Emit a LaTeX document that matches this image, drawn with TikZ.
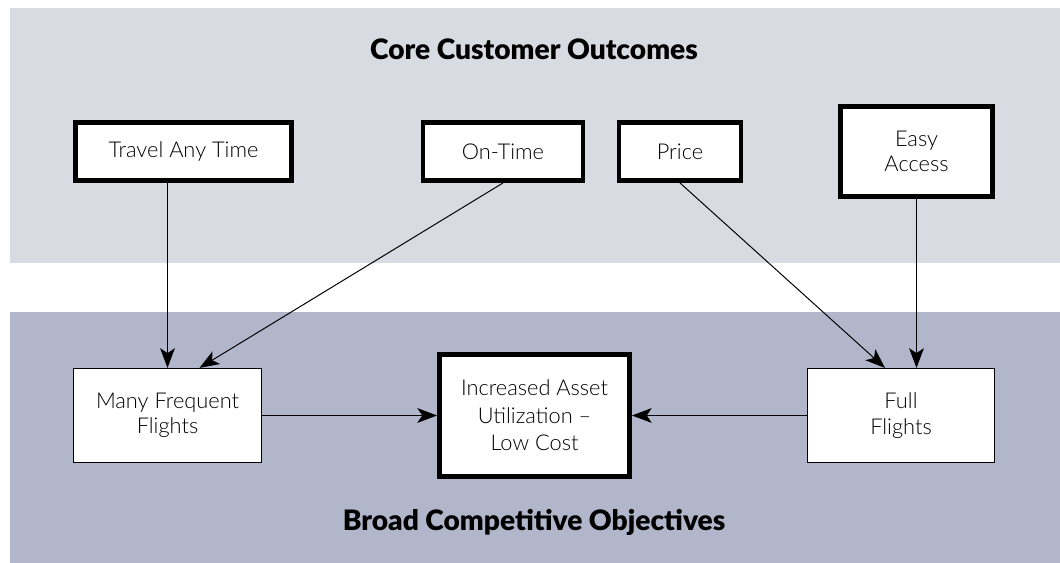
\documentclass[tikz,border=0pt]{standalone}
\usepackage{fontspec}
\setmainfont{Lato Light}
\newfontfamily\headfont{Lato Black}
\usepackage{xcolor}
\usetikzlibrary{arrows.meta}

\definecolor{bandtop}{HTML}{D8DBE2}
\definecolor{bandlow}{HTML}{B1B6CA}

\tikzset{
  goalbox/.style={draw, fill=white, line width=3.2pt, inner sep=0pt, align=center,
    font=\fontsize{15.5}{18}\selectfont},
  aimbox/.style={draw, fill=white, line width=0.8pt, inner sep=0pt, align=center,
    font=\fontsize{15.5}{18}\selectfont},
  link/.style={line width=0.7pt, -{Stealth[length=14pt, width=10.5pt, inset=3.5pt]}},
  bandtitle/.style={font=\headfont\fontsize{20}{24}\selectfont}
}

\begin{document}
\begin{tikzpicture}[x=0.025cm, y=-0.025cm]
\useasboundingbox (0,0) rectangle (1060,563);

% bands
\fill[bandtop] (10,8) rectangle (1060,263);
\fill[bandlow] (10,312) rectangle (1060,563);

\node[bandtitle] (core) at (534,49) {Core Customer Outcomes};
\node[bandtitle] (broad) at (534,522) {Broad Competitive Objectives};

% customer outcomes
\node[goalbox, minimum width=5.41cm, minimum height=1.46cm] (travel) at (183.5,151.5) {Travel Any Time};
\node[goalbox, minimum width=3.99cm, minimum height=1.46cm] (ontime) at (503,151.5) {On-Time};
\node[goalbox, minimum width=3.04cm, minimum height=1.46cm] (price) at (680,151.5) {Price};
\node[goalbox, minimum width=3.81cm, minimum height=2.26cm] (easy) at (916.5,151.5) {Easy\\Access};

% competitive objectives
\node[aimbox, minimum width=4.7cm, minimum height=2.35cm] (many) at (167.5,415.5) {Many Frequent\\Flights};
\node[goalbox, minimum width=4.76cm, minimum height=3.06cm, font=\fontsize{15.5}{19.5}\selectfont] (asset) at (534.5,415.5) {Increased Asset\\Utilization --\\Low Cost};
\node[aimbox, minimum width=4.68cm, minimum height=2.35cm] (full) at (901,415.5) {Full\\Flights};

\draw[link] (travel.south -| many.north) -- (many.north);
\draw[link] (ontime.south) -- ([xshift=0.8cm]many.north);
\draw[link] (price.south) -- ([xshift=-0.4cm]full.north);
\draw[link] (easy.south) -- (easy.south |- full.north);
\draw[link] (many.east) -- (asset.west);
\draw[link] (full.west) -- (asset.east);
\end{tikzpicture}
\end{document}
